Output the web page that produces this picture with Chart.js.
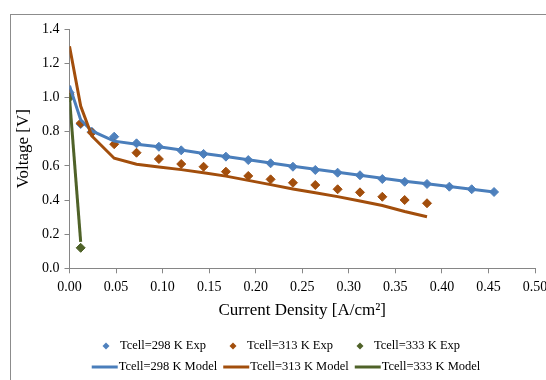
<!DOCTYPE html>
<html>
<head>
<meta charset="utf-8">
<script src="https://cdn.jsdelivr.net/npm/chart.js@4/dist/chart.umd.min.js"></script>
<style>
  html, body { margin: 0; padding: 0; background: #ffffff; }
  #wrap { width: 546px; height: 380px; position: relative; }
</style>
</head>
<body>
<div id="wrap"><canvas id="c" width="546" height="380"></canvas></div>
<script>
// ---- data ----
const currentDensity = [0, 0.012, 0.024, 0.048, 0.072, 0.096, 0.12, 0.144, 0.168, 0.192, 0.216, 0.24, 0.264, 0.288, 0.312, 0.336, 0.36, 0.384, 0.408, 0.432, 0.456];
const v298Exp   = [1.03, 0.845, 0.80, 0.771, 0.732, 0.712, 0.691, 0.670, 0.654, 0.634, 0.615, 0.595, 0.576, 0.560, 0.545, 0.523, 0.507, 0.494, 0.478, 0.463, 0.447];
const v298Model = [1.07, 0.87, 0.805, 0.745, 0.727, 0.712, 0.693, 0.673, 0.655, 0.636, 0.617, 0.598, 0.580, 0.562, 0.545, 0.527, 0.510, 0.495, 0.479, 0.463, 0.447];
const v313Exp   = [1.02, 0.85, 0.795, 0.727, 0.677, 0.640, 0.611, 0.595, 0.566, 0.541, 0.521, 0.501, 0.488, 0.463, 0.445, 0.419, 0.400, 0.381];
const v313Model = [1.30, 0.95, 0.775, 0.645, 0.610, 0.594, 0.578, 0.560, 0.540, 0.515, 0.490, 0.465, 0.443, 0.420, 0.394, 0.368, 0.333, 0.302];
const v333Exp   = [1.00, 0.12];
const v333Model = [1.00, 0.155];
const seriesLabels = ['Tcell=298 K Exp', 'Tcell=313 K Exp', 'Tcell=333 K Exp', 'Tcell=298 K Model', 'Tcell=313 K Model', 'Tcell=333 K Model'];
const xTicks = [0, 0.05, 0.10, 0.15, 0.20, 0.25, 0.30, 0.35, 0.40, 0.45, 0.50];
const yTicks = [0, 0.2, 0.4, 0.6, 0.8, 1.0, 1.2, 1.4];
const xTitle = 'Current Density [A/cm\u00B2]';
const yTitle = 'Voltage [V]';

const BLUE = '#4A7EBB', ORANGE = '#A24E0C', GREEN = '#4F6228';
const FONT = '"Liberation Serif", "Times New Roman", serif';

function pts(arr) { return arr.map((v, i) => ({ x: currentDensity[i], y: v })); }

function expSet(label, arr, color, order) {
  return { label, data: pts(arr), showLine: false, pointStyle: 'rectRot', pointRadius: 4.5, pointHoverRadius: 4.5,
    pointBorderWidth: 1, backgroundColor: color, borderColor: color, order };
}
function modelSet(label, arr, color, order) {
  return { label, data: pts(arr), showLine: true, pointRadius: 0, borderWidth: 3, borderColor: color,
    backgroundColor: color, tension: 0, fill: false, order };
}

const frame = {
  id: 'frame',
  beforeDraw(chart) {
    const ctx = chart.ctx;
    ctx.save();
    ctx.fillStyle = '#ffffff';
    ctx.fillRect(0, 0, chart.width, chart.height);
    ctx.strokeStyle = '#8C8C8C';
    ctx.lineWidth = 1;
    ctx.strokeRect(10.5, 14.5, 600, 420);
    ctx.restore();
  }
};

const rowLegend = {
  id: 'rowLegend',
  afterDraw(chart) {
    const ctx = chart.ctx;
    const ds = chart.data.datasets;
    ctx.save();
    ctx.font = '12.5px ' + FONT;
    ctx.textBaseline = 'middle';
    ctx.textAlign = 'left';
    ctx.fillStyle = '#000';
    // row 1 : markers
    const r1 = [0, 1, 2];
    const w1 = r1.map(i => ctx.measureText(ds[i].label).width);
    const total1 = 4 + 3 * 14 + w1.reduce((a, b) => a + b, 0) + 2 * 27;
    let x = 281 - total1 / 2 + 4;
    const y1 = 346;
    r1.forEach((i, k) => {
      const r = 3.5;
      ctx.fillStyle = ds[i].backgroundColor;
      ctx.beginPath();
      ctx.moveTo(x, y1 - r); ctx.lineTo(x + r, y1); ctx.lineTo(x, y1 + r); ctx.lineTo(x - r, y1); ctx.closePath();
      ctx.fill();
      ctx.fillStyle = '#000';
      ctx.fillText(ds[i].label, x + 14, y1);
      x += 14 + w1[k] + 27;
    });
    // row 2 : lines
    const r2 = [3, 4, 5];
    const w2 = r2.map(i => ctx.measureText(ds[i].label).width);
    const total2 = 3 * 27 + w2.reduce((a, b) => a + b, 0) + 2 * 6;
    x = 286 - total2 / 2;
    const y2 = 367;
    r2.forEach((i, k) => {
      ctx.strokeStyle = ds[i].borderColor;
      ctx.lineWidth = 3;
      ctx.beginPath();
      ctx.moveTo(x, y2); ctx.lineTo(x + 26, y2);
      ctx.stroke();
      ctx.fillStyle = '#000';
      ctx.fillText(ds[i].label, x + 27, y2);
      x += 27 + w2[k] + 6;
    });
    ctx.restore();
  }
};

new Chart(document.getElementById('c'), {
  type: 'scatter',
  data: {
    datasets: [
      expSet(seriesLabels[0], v298Exp, '#4F81BD', 6),
      expSet(seriesLabels[1], v313Exp, ORANGE, 5),
      expSet(seriesLabels[2], v333Exp, GREEN, 4),
      modelSet(seriesLabels[3], v298Model, BLUE, 3),
      modelSet(seriesLabels[4], v313Model, ORANGE, 2),
      modelSet(seriesLabels[5], v333Model, GREEN, 1)
    ]
  },
  options: {
    responsive: false,
    animation: false,
    events: [],
    layout: { padding: { left: 0, right: 11, top: 29.3, bottom: 58.8 } },
    plugins: { legend: { display: false }, tooltip: { enabled: false } },
    scales: {
      x: {
        type: 'linear', min: 0, max: 0.5,
        afterBuildTicks(scale) { scale.ticks = xTicks.map(v => ({ value: v })); },
        afterFit(scale) { scale.height = 380 - 58.8 - 268.3; scale.paddingRight = 0; },
        ticks: { font: { family: FONT, size: 14 }, color: '#000', padding: 6, maxRotation: 0, autoSkip: false,
          callback: v => Number(v).toFixed(2) },
        grid: { display: true, drawOnChartArea: false, drawTicks: true, tickLength: 5, color: '#868686' },
        border: { display: true, color: '#868686', width: 1 },
        title: { display: true, text: xTitle, color: '#000', font: { family: FONT, size: 17 }, padding: { top: 0, bottom: 0 } }
      },
      y: {
        type: 'linear', min: 0, max: 1.4,
        afterBuildTicks(scale) { scale.ticks = yTicks.map(v => ({ value: v })); },
        afterFit(scale) { scale.width = 69.5; },
        ticks: { font: { family: FONT, size: 14 }, color: '#000', padding: 5,
          callback: v => Number(v).toFixed(1) },
        grid: { display: true, drawOnChartArea: false, drawTicks: true, tickLength: 5, color: '#868686' },
        border: { display: true, color: '#868686', width: 1 },
        title: { display: true, text: yTitle, color: '#000', font: { family: FONT, size: 17 }, padding: { top: 13, bottom: 0 } }
      }
    }
  },
  plugins: [frame, rowLegend]
});
</script>
</body>
</html>
